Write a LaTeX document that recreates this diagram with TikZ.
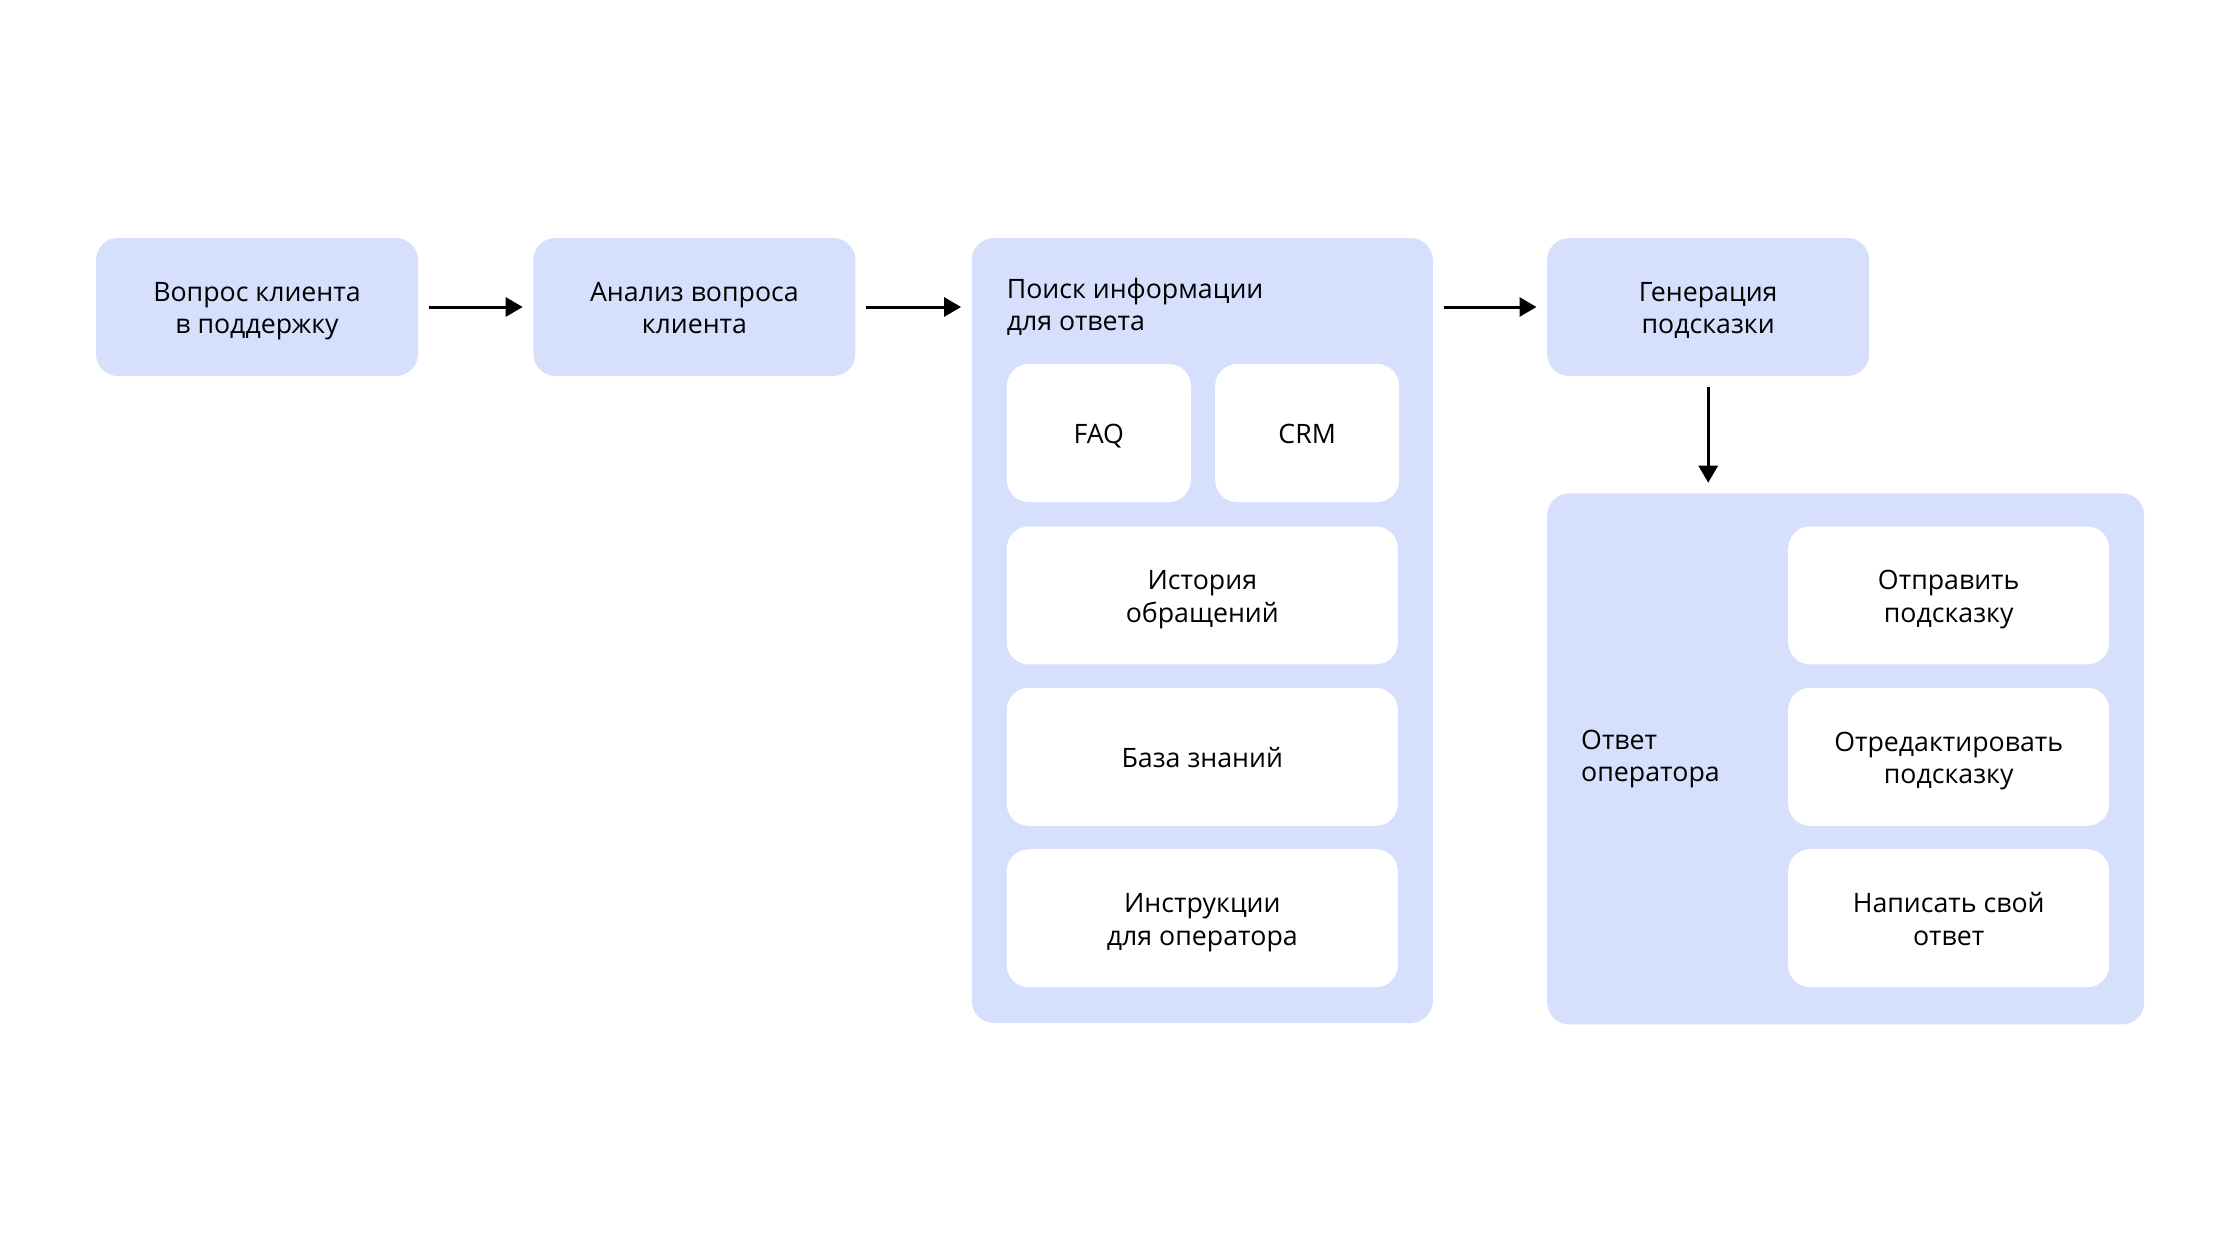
\documentclass[tikz,border=0pt]{standalone}
\usepackage{fontspec}
\setmainfont{Open Sans}
\usetikzlibrary{positioning,arrows.meta}

\definecolor{stagefill}{HTML}{D6E0FD}

\tikzset{
  every node/.style={font=\fontsize{7.6}{9.3}\selectfont, inner sep=0pt},
  oneline/.style={execute at begin node={\rule{0pt}{8.7pt}}},
  twoline/.style={execute at begin node={\rule{0pt}{18pt}}},
  stage/.style={fill=stagefill, rounded corners=2.2mm, minimum width=32.2mm, minimum height=13.8mm, align=center,
                twoline, execute at end node={\rule[-2.7pt]{0pt}{2.7pt}}},
  panel/.style={fill=stagefill, rounded corners=2.2mm},
  item/.style={fill=white, rounded corners=2.2mm, minimum height=13.8mm, align=center,
               execute at end node={\rule[-2.7pt]{0pt}{2.7pt}}},
  flow/.style={-{Triangle[length=1.7mm,width=1.9mm]}, line width=0.3mm, shorten <=1mm, shorten >=1mm}
}

\begin{document}
\begin{tikzpicture}[x=0.1mm, y=-0.1mm]
  \useasboundingbox (0,0) rectangle (2240,1260);

  % main row
  \node[stage] (question) at (257,307) {Вопрос клиента\\в поддержку};
  \node[stage, right=11.4mm of question] (analysis) {Анализ вопроса\\клиента};
  \node[panel, minimum width=46.1mm, minimum height=78.5mm,
        right=11.5mm of analysis.north east, anchor=north west] (search) {};
  \node[stage, right=11.3mm of search.north east, anchor=north west] (generation) {Генерация\\подсказки};
  \node[panel, minimum width=59.7mm, minimum height=53.1mm,
        below right=11.6mm and 0mm of generation.south west] (operator) {};

  % sources
  \node[below right=4mm and 3.5mm of search.north west, align=left] (searchtitle) {Поиск информации\\для ответа};
  \node[item, oneline, minimum width=18.4mm, below right=12.6mm and 3.5mm of search.north west] (faq) {FAQ};
  \node[item, oneline, minimum width=18.4mm, right=2.3mm of faq] (crm) {CRM};
  \node[item, twoline, minimum width=39.1mm, below right=2.3mm and 0mm of faq.south west] (history) {История\\обращений};
  \node[item, oneline, minimum width=39.1mm, below=2.2mm of history] (kb) {База знаний};
  \node[item, twoline, minimum width=39.1mm, below=2.2mm of kb] (manual) {Инструкции\\для оператора};

  % operator choices
  \node[right=3.4mm of operator.west, anchor=west, align=left] (operatortitle) {Ответ\\оператора};
  \node[item, twoline, minimum width=32.1mm, below left=3.3mm and 3.5mm of operator.north east] (send) {Отправить\\подсказку};
  \node[item, twoline, minimum width=32.1mm, below=2.2mm of send] (edit) {Отредактировать\\подсказку};
  \node[item, twoline, minimum width=32.1mm, below=2.2mm of edit] (own) {Написать свой\\ответ};

  \draw[flow] (question) -- (analysis);
  \draw[flow] (analysis) -- (analysis -| search.west);
  \draw[flow] (search.east |- generation) -- (generation);
  \draw[flow] (generation) -- (generation |- operator.north);
\end{tikzpicture}
\end{document}
